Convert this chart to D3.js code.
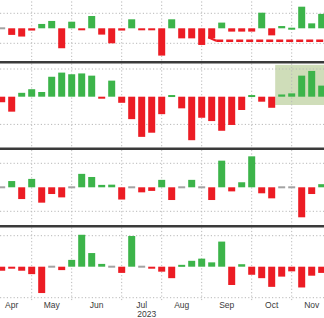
<!DOCTYPE html>
<html><head><meta charset="utf-8">
<script src="https://cdn.jsdelivr.net/npm/d3@7"></script>
<style>html,body{margin:0;padding:0;background:#fff;overflow:hidden}svg{display:block}</style>
</head><body><svg id="c" width="324" height="318"></svg>
<script>
// ---- data ----
const weeks = ["2023-04-14","2023-04-21","2023-04-28","2023-05-05","2023-05-12","2023-05-19","2023-05-26",
  "2023-06-02","2023-06-09","2023-06-16","2023-06-23","2023-06-30","2023-07-07","2023-07-14","2023-07-21","2023-07-28",
  "2023-08-04","2023-08-11","2023-08-18","2023-08-25","2023-09-01","2023-09-08","2023-09-15","2023-09-22","2023-09-29",
  "2023-10-06","2023-10-13","2023-10-20","2023-10-27","2023-11-03","2023-11-10","2023-11-17","2023-11-24"];
const monthLabels = ["Apr","May","Jun","Jul","Aug","Sep","Oct","Nov"];
const yearLabel = "2023";
const series1 = [0,-0.44,-0.55,-0.15,0.29,0.49,-1.33,0.44,-0.08,0.82,-0.42,-1.0,-0.15,0.6,-0.1,-0.1,-1.82,0.6,-0.67,-0.67,-1.11,-0.67,0.38,-0.22,-0.22,-0.22,1.04,-0.47,0.15,0.04,1.44,0.33,0.96];
const series2 = [-0.2,-0.54,0.14,0.27,0.17,0.72,0.87,0.81,0.84,0.76,-0.07,0.58,-0.22,-0.81,-1.45,-1.3,-0.63,0.06,-0.42,-1.57,-0.76,-0.88,-1.23,-1.02,-0.48,0.06,-0.18,-0.4,0.08,0.12,0.76,0.93,0.4];
const series3 = [0,0.26,-0.49,0.35,-0.64,-0.28,-0.42,0,0.56,0.43,0.1,0.11,-0.51,0,-0.21,-0.15,0.31,-0.53,0,0.31,0,-0.53,1.11,-0.17,0.21,1.29,-0.25,-0.46,0,0,-1.25,-0.28,0.13];
const series4 = [-0.13,-0.06,-0.13,-0.24,-0.85,0,-0.11,0.22,1.03,0.44,0.09,0,-0.2,0.99,0,-0.03,-0.16,-0.37,0.06,0.19,0.26,0.14,0.81,-0.59,0.08,-0.26,-0.37,-0.65,-0.32,-0.15,-0.67,-0.29,-0.2];
const gridTicks = [-1, 1];
const marker1Level = -0.83;           // dashed reference level in panel 1
const marker1FromWeek = "2023-09-08";
const shadeFromWeek = "2023-10-20";   // highlighted region in panel 2 begins after this week
const shadeRange = [1.15, -0.3];

// ---- layout ----
const W = 324;
const svg = d3.select("#c");
const RED = "#ec1c24", GREEN = "#3cb44a", GREY = "#a3a3a3";
const x = d3.scaleBand().domain(weeks).range([-3.3, 326.7]).paddingInner(0.3).paddingOuter(0.15);
const step = x.step(), bw = x.bandwidth();
const parse = d3.timeParse("%Y-%m-%d");
const t0 = parse(weeks[0]);
const xAt = d => x(weeks[0]) + bw/2 + step * Math.round((d - t0) / (7*864e5));

const panels = [
  {data: series1, range: [43.3, 13.3], top: -2, bot: 61},
  {data: series2, range: [124.4, 69.0], top: 63.5, bot: 147.3},
  {data: series3, range: [211.3, 163.3], top: 150, bot: 225},
  {data: series4, range: [297.7, 235.7], top: 227.5, bot: 302}
];

// month boundaries (first Friday of each month)
const monthStarts = d3.range(3, 12).map(m => d3.timeFriday.ceil(new Date(2023, m, 1)));
const monthX = monthStarts.map(xAt);

panels.forEach((p, k) => {
  p.y = d3.scaleLinear().domain([-1, 1]).range(p.range);
  const g = svg.append("g");
  // shade
  if (k === 1) {
    g.append("rect").attr("x", x(shadeFromWeek) + bw).attr("width", W)
      .attr("y", p.y(shadeRange[0])).attr("height", p.y(shadeRange[1]) - p.y(shadeRange[0]))
      .attr("fill", "#cfddb9");
  }
  // horizontal grid
  g.selectAll("line.h").data(gridTicks).join("line")
    .attr("x1", 0).attr("x2", W).attr("y1", d => p.y(d)).attr("y2", d => p.y(d))
    .attr("stroke", "#b8b8b8").attr("stroke-width", 1).attr("stroke-dasharray", "1.2,2.2");
  // vertical grid
  g.selectAll("line.v").data(monthX.slice(1, 8)).join("line")
    .attr("x1", d => d).attr("x2", d => d).attr("y1", p.top).attr("y2", p.bot)
    .attr("stroke", "#b8b8b8").attr("stroke-width", 1).attr("stroke-dasharray", "1.2,2.2");
  // bars
  g.selectAll("rect.b").data(p.data).join("rect")
    .attr("x", (d, i) => x(weeks[i])).attr("width", bw)
    .attr("y", d => d === 0 ? p.y(0) - 1 : Math.min(p.y(0), p.y(d)))
    .attr("height", d => d === 0 ? 2 : Math.max(2, Math.abs(p.y(d) - p.y(0))))
    .attr("fill", d => d === 0 ? GREY : (d > 0 ? GREEN : RED));
  p.g = g;
});

// panel 1 reference marker
{
  const p = panels[0];
  const yM = p.y(marker1Level);
  const xs = x(marker1FromWeek) + bw;
  p.g.append("line").attr("x1", xs - 7).attr("y1", yM - 3.5).attr("x2", xs + 1).attr("y2", yM)
    .attr("stroke", RED).attr("stroke-width", 2.2);
  p.g.append("line").attr("x1", xs + 1).attr("x2", W + 2).attr("y1", yM).attr("y2", yM)
    .attr("stroke", RED).attr("stroke-width", 2.6).attr("stroke-dasharray", "7,3");
}

// separators
[62.2, 148.7, 226.2].forEach(yy => {
  svg.append("line").attr("x1", 0).attr("x2", W).attr("y1", yy).attr("y2", yy)
    .attr("stroke", "#3a3a3a").attr("stroke-width", 2.6);
});

// month labels
const labelX = monthLabels.map((m, i) => (monthX[i] + monthX[i + 1]) / 2);
svg.selectAll("text.m").data(monthLabels).join("text")
  .attr("x", (d, i) => labelX[i]).attr("y", 307.5)
  .attr("text-anchor", "middle").attr("font-family", "Liberation Sans, Arial, sans-serif")
  .attr("font-size", 8.5).attr("fill", "#3a3a3a").text(d => d);
svg.append("text").attr("x", labelX[3] + 5).attr("y", 316.8).attr("text-anchor", "middle")
  .attr("font-family", "Liberation Sans, Arial, sans-serif").attr("font-size", 8.5)
  .attr("fill", "#3a3a3a").text(yearLabel);
</script></body></html>
